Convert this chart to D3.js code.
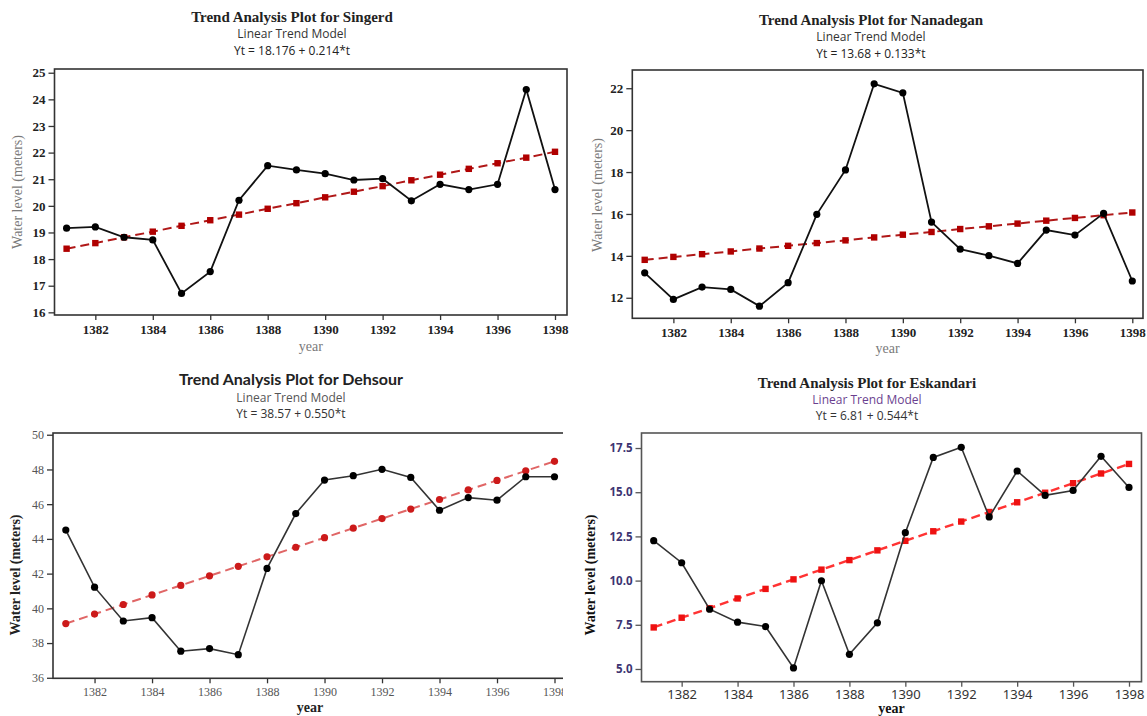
<!DOCTYPE html>
<html>
<head>
<meta charset="utf-8">
<script src="https://cdn.jsdelivr.net/npm/d3@7"></script>
<style>
  body { margin: 0; background: #fff; }
  svg { display: block; }
</style>
</head>
<body>
<div id="chart"></div>
<script>
// years on the x axis (Persian calendar)
const years = [1381, 1382, 1383, 1384, 1385, 1386, 1387, 1388, 1389, 1390, 1391, 1392, 1393, 1394, 1395, 1396, 1397, 1398]
const yearTicks = [1382, 1384, 1386, 1388, 1390, 1392, 1394, 1396, 1398]

// observed water levels (meters)
const singerdObs = [19.16, 19.21, 18.82, 18.72, 16.71, 17.53, 20.21, 21.51, 21.35, 21.21, 20.97, 21.02, 20.19, 20.81, 20.61, 20.81, 24.37, 20.61]
const nanadeganObs = [13.19, 11.92, 12.51, 12.40, 11.60, 12.72, 15.98, 18.10, 22.21, 21.78, 15.61, 14.32, 14.01, 13.64, 15.23, 14.99, 16.03, 12.80]
const dehsourObs = [44.51, 41.22, 39.27, 39.46, 37.53, 37.68, 37.33, 42.30, 45.46, 47.39, 47.64, 48.01, 47.54, 45.65, 46.38, 46.23, 47.58, 47.58]
const eskandariObs = [12.26, 11.01, 8.38, 7.65, 7.40, 5.06, 9.99, 5.83, 7.61, 12.71, 16.97, 17.54, 13.60, 16.20, 14.82, 15.10, 17.03, 15.27]

// fitted linear trend values
const singerdTrend = [18.39, 18.60, 18.82, 19.03, 19.25, 19.46, 19.67, 19.89, 20.10, 20.32, 20.53, 20.74, 20.96, 21.17, 21.39, 21.60, 21.81, 22.03]
const nanadeganTrend = [13.81, 13.95, 14.08, 14.21, 14.35, 14.48, 14.61, 14.74, 14.88, 15.01, 15.14, 15.28, 15.41, 15.54, 15.68, 15.81, 15.94, 16.07]
const dehsourTrend = [39.12, 39.67, 40.22, 40.77, 41.32, 41.87, 42.42, 42.97, 43.52, 44.07, 44.62, 45.17, 45.72, 46.27, 46.82, 47.37, 47.92, 48.47]
const eskandariTrend = [7.35, 7.90, 8.44, 8.99, 9.53, 10.07, 10.62, 11.16, 11.71, 12.25, 12.79, 13.34, 13.88, 14.43, 14.97, 15.51, 16.06, 16.60]

// y tick values
const singerdTicks = [16, 17, 18, 19, 20, 21, 22, 23, 24, 25]
const nanadeganTicks = [12, 14, 16, 18, 20, 22]
const dehsourTicks = [36, 38, 40, 42, 44, 46, 48, 50]
const eskandariTicks = [5.0, 7.5, 10.0, 12.5, 15.0, 17.5]

const W = 1147, H = 716
const serif = '"Liberation Serif", "Times New Roman", serif'
const sans = '"Open Sans", "Noto Sans", sans-serif'

const svg = d3.select('#chart').append('svg')
    .attr('width', W)
    .attr('height', H)
    .attr('viewBox', [0, 0, W, H])

const panels = [
    {
        name: 'Singerd', eq: 'Yt = 18.176 + 0.214*t', obs: singerdObs, trend: singerdTrend, ticks: singerdTicks, fmt: d3.format('d'),
        frame: {l: 54.5, r: 567, t: 69, b: 315}, xr: [66.6, 555], yd: [15.9, 25.14],
        titleX: 292, titleY: [22, 38, 55], titleFont: `bold 15px ${serif}`, titleColor: '#222', subColor: '#333', eqColor: '#222',
        tickFont: `bold 13px ${serif}`, tickColor: '#222', yTickFont: `bold 13px ${serif}`, yTickColor: '#222', xTickBase: 334,
        labelFont: `14px ${serif}`, labelColor: '#7a7a7a', yLabelX: 17, yLabelY: 192, xLabelY: 351,
        frameColor: '#333', lineColor: '#111', lineWidth: 1.8,
        trendColor: '#b01818', trendMark: '#b00000', trendShape: 'square', trendWidth: 2
    },
    {
        name: 'Nanadegan', eq: 'Yt = 13.68 + 0.133*t', obs: nanadeganObs, trend: nanadeganTrend, ticks: nanadeganTicks, fmt: d3.format('d'),
        frame: {l: 632.3, r: 1143, t: 70, b: 318.3}, xr: [644.7, 1132.3], yd: [11.02, 22.87],
        titleX: 871, titleY: [25, 41, 57.5], titleFont: `bold 15px ${serif}`, titleColor: '#222', subColor: '#333', eqColor: '#222',
        tickFont: `bold 13px ${serif}`, tickColor: '#222', yTickFont: `bold 13px ${serif}`, yTickColor: '#222', xTickBase: 337,
        labelFont: `14px ${serif}`, labelColor: '#7a7a7a', yLabelX: 597, yLabelY: 195, xLabelY: 353,
        frameColor: '#333', lineColor: '#111', lineWidth: 1.8,
        trendColor: '#b01818', trendMark: '#b00000', trendShape: 'square', trendWidth: 2
    },
    {
        name: 'Dehsour', eq: 'Yt = 38.57 + 0.550*t', obs: dehsourObs, trend: dehsourTrend, ticks: dehsourTicks, fmt: d3.format('d'),
        frame: {l: 53, r: 567, t: 433, b: 678.3}, xr: [65.8, 554.5], yd: [35.97, 50.1], clip: 563,
        titleX: 291, titleY: [385, 401.5, 418], titleFont: `bold 16px Lato, ${sans}`, titleColor: '#222', subColor: '#555', eqColor: '#333',
        tickFont: `12px ${serif}`, tickColor: '#555', yTickFont: `12px ${serif}`, yTickColor: '#555', xTickBase: 696,
        labelFont: `bold 14px ${serif}`, labelColor: '#222', yLabelX: 15, yLabelY: 575, xLabelY: 712,
        frameColor: '#333', lineColor: '#333', lineWidth: 1.6,
        trendColor: '#e06666', trendMark: '#cc1a1a', trendShape: 'circle', trendWidth: 2
    },
    {
        name: 'Eskandari', eq: 'Yt = 6.81 + 0.544*t', obs: eskandariObs, trend: eskandariTrend, ticks: eskandariTicks, fmt: d3.format('.1f'),
        frame: {l: 641.5, r: 1141.5, t: 433, b: 681.7}, xr: [653.7, 1129], yd: [4.28, 18.35],
        titleX: 867, titleY: [388, 404, 420], titleFont: `bold 15px ${serif}`, titleColor: '#222', subColor: '#6b3f8f', eqColor: '#333',
        tickFont: `13px "Noto Sans", sans-serif`, tickColor: '#333', yTickFont: `bold 11.5px "Noto Sans", sans-serif`, yTickColor: '#3d3472', xTickBase: 699,
        labelFont: `bold 14px ${serif}`, labelColor: '#111', yLabelX: 590, yLabelY: 575, xLabelY: 713,
        frameColor: '#555', lineColor: '#333', lineWidth: 1.6,
        trendColor: '#ff3333', trendMark: '#ee1111', trendShape: 'square', trendWidth: 2.4
    }
]

panels.forEach((p, i) => drawPanel(p, i))

function drawPanel(p, idx) {
    const g = svg.append('g')
    if (p.clip) {
        svg.append('clipPath').attr('id', 'clip' + idx)
            .append('rect').attr('x', 0).attr('y', 360).attr('width', p.clip).attr('height', 356)
        g.attr('clip-path', `url(#clip${idx})`)
    }

    const x = d3.scaleLinear().domain([years[0], years[years.length - 1]]).range(p.xr)
    const y = d3.scaleLinear().domain(p.yd).range([p.frame.b, p.frame.t])

    //titles
    const titles = g.append('g').attr('text-anchor', 'middle')
    titles.append('text').attr('x', p.titleX).attr('y', p.titleY[0])
        .style('font', p.titleFont).attr('fill', p.titleColor)
        .text(`Trend Analysis Plot for ${p.name}`)
    titles.append('text').attr('x', p.titleX).attr('y', p.titleY[1])
        .style('font', `12px ${sans}`).attr('fill', p.subColor)
        .text('Linear Trend Model')
    titles.append('text').attr('x', p.titleX).attr('y', p.titleY[2])
        .style('font', `12px ${sans}`).attr('fill', p.eqColor)
        .text(p.eq)

    //axes
    const xAxis = g.append('g')
        .attr('transform', `translate(0,${p.frame.b})`)
        .call(d3.axisBottom(x).tickValues(yearTicks).tickFormat(d3.format('d')).tickSize(5).tickSizeOuter(0))
    xAxis.select('.domain').remove()
    xAxis.selectAll('.tick line').attr('stroke', p.frameColor).attr('stroke-width', 1.3)
    xAxis.selectAll('.tick text')
        .attr('y', p.xTickBase - p.frame.b).attr('dy', null)
        .style('font', p.tickFont).attr('fill', p.tickColor)

    const yAxis = g.append('g')
        .attr('transform', `translate(${p.frame.l},0)`)
        .call(d3.axisLeft(y).tickValues(p.ticks).tickFormat(p.fmt).tickSize(6).tickPadding(3).tickSizeOuter(0))
    yAxis.select('.domain').remove()
    yAxis.selectAll('.tick line').attr('stroke', p.frameColor).attr('stroke-width', 1.3)
    yAxis.selectAll('.tick text')
        .style('font', p.yTickFont).attr('fill', p.yTickColor)

    //frame
    g.append('rect')
        .attr('x', p.frame.l).attr('y', p.frame.t)
        .attr('width', p.frame.r - p.frame.l).attr('height', p.frame.b - p.frame.t)
        .attr('fill', 'none').attr('stroke', p.frameColor).attr('stroke-width', 1.6)

    //axis labels
    g.append('text')
        .attr('transform', `translate(${p.yLabelX},${p.yLabelY}) rotate(-90)`)
        .attr('text-anchor', 'middle').attr('dy', '0.35em')
        .style('font', p.labelFont).attr('fill', p.labelColor)
        .text('Water level (meters)')
    g.append('text')
        .attr('x', (p.frame.l + p.frame.r) / 2).attr('y', p.xLabelY)
        .attr('text-anchor', 'middle')
        .style('font', p.labelFont).attr('fill', p.labelColor)
        .text('year')

    //trend line
    const line = d3.line().x((d, i) => x(years[i])).y(d => y(d))
    g.append('path').datum(p.trend)
        .attr('d', line)
        .attr('fill', 'none').attr('stroke', p.trendColor)
        .attr('stroke-width', p.trendWidth).attr('stroke-dasharray', '9,5')
    if (p.trendShape === 'square') {
        g.append('g').selectAll('rect')
            .data(p.trend)
            .join('rect')
            .attr('x', (d, i) => x(years[i]) - 3.2)
            .attr('y', d => y(d) - 3.2)
            .attr('width', 6.4).attr('height', 6.4)
            .attr('fill', p.trendMark)
    } else {
        g.append('g').selectAll('circle')
            .data(p.trend)
            .join('circle')
            .attr('cx', (d, i) => x(years[i]))
            .attr('cy', d => y(d))
            .attr('r', 3.6)
            .attr('fill', p.trendMark)
    }

    //observed series
    g.append('path').datum(p.obs)
        .attr('d', line)
        .attr('fill', 'none').attr('stroke', p.lineColor)
        .attr('stroke-width', p.lineWidth)
    g.append('g').selectAll('circle')
        .data(p.obs)
        .join('circle')
        .attr('cx', (d, i) => x(years[i]))
        .attr('cy', d => y(d))
        .attr('r', 3.6)
        .attr('fill', '#000')
}
</script>
</body>
</html>
